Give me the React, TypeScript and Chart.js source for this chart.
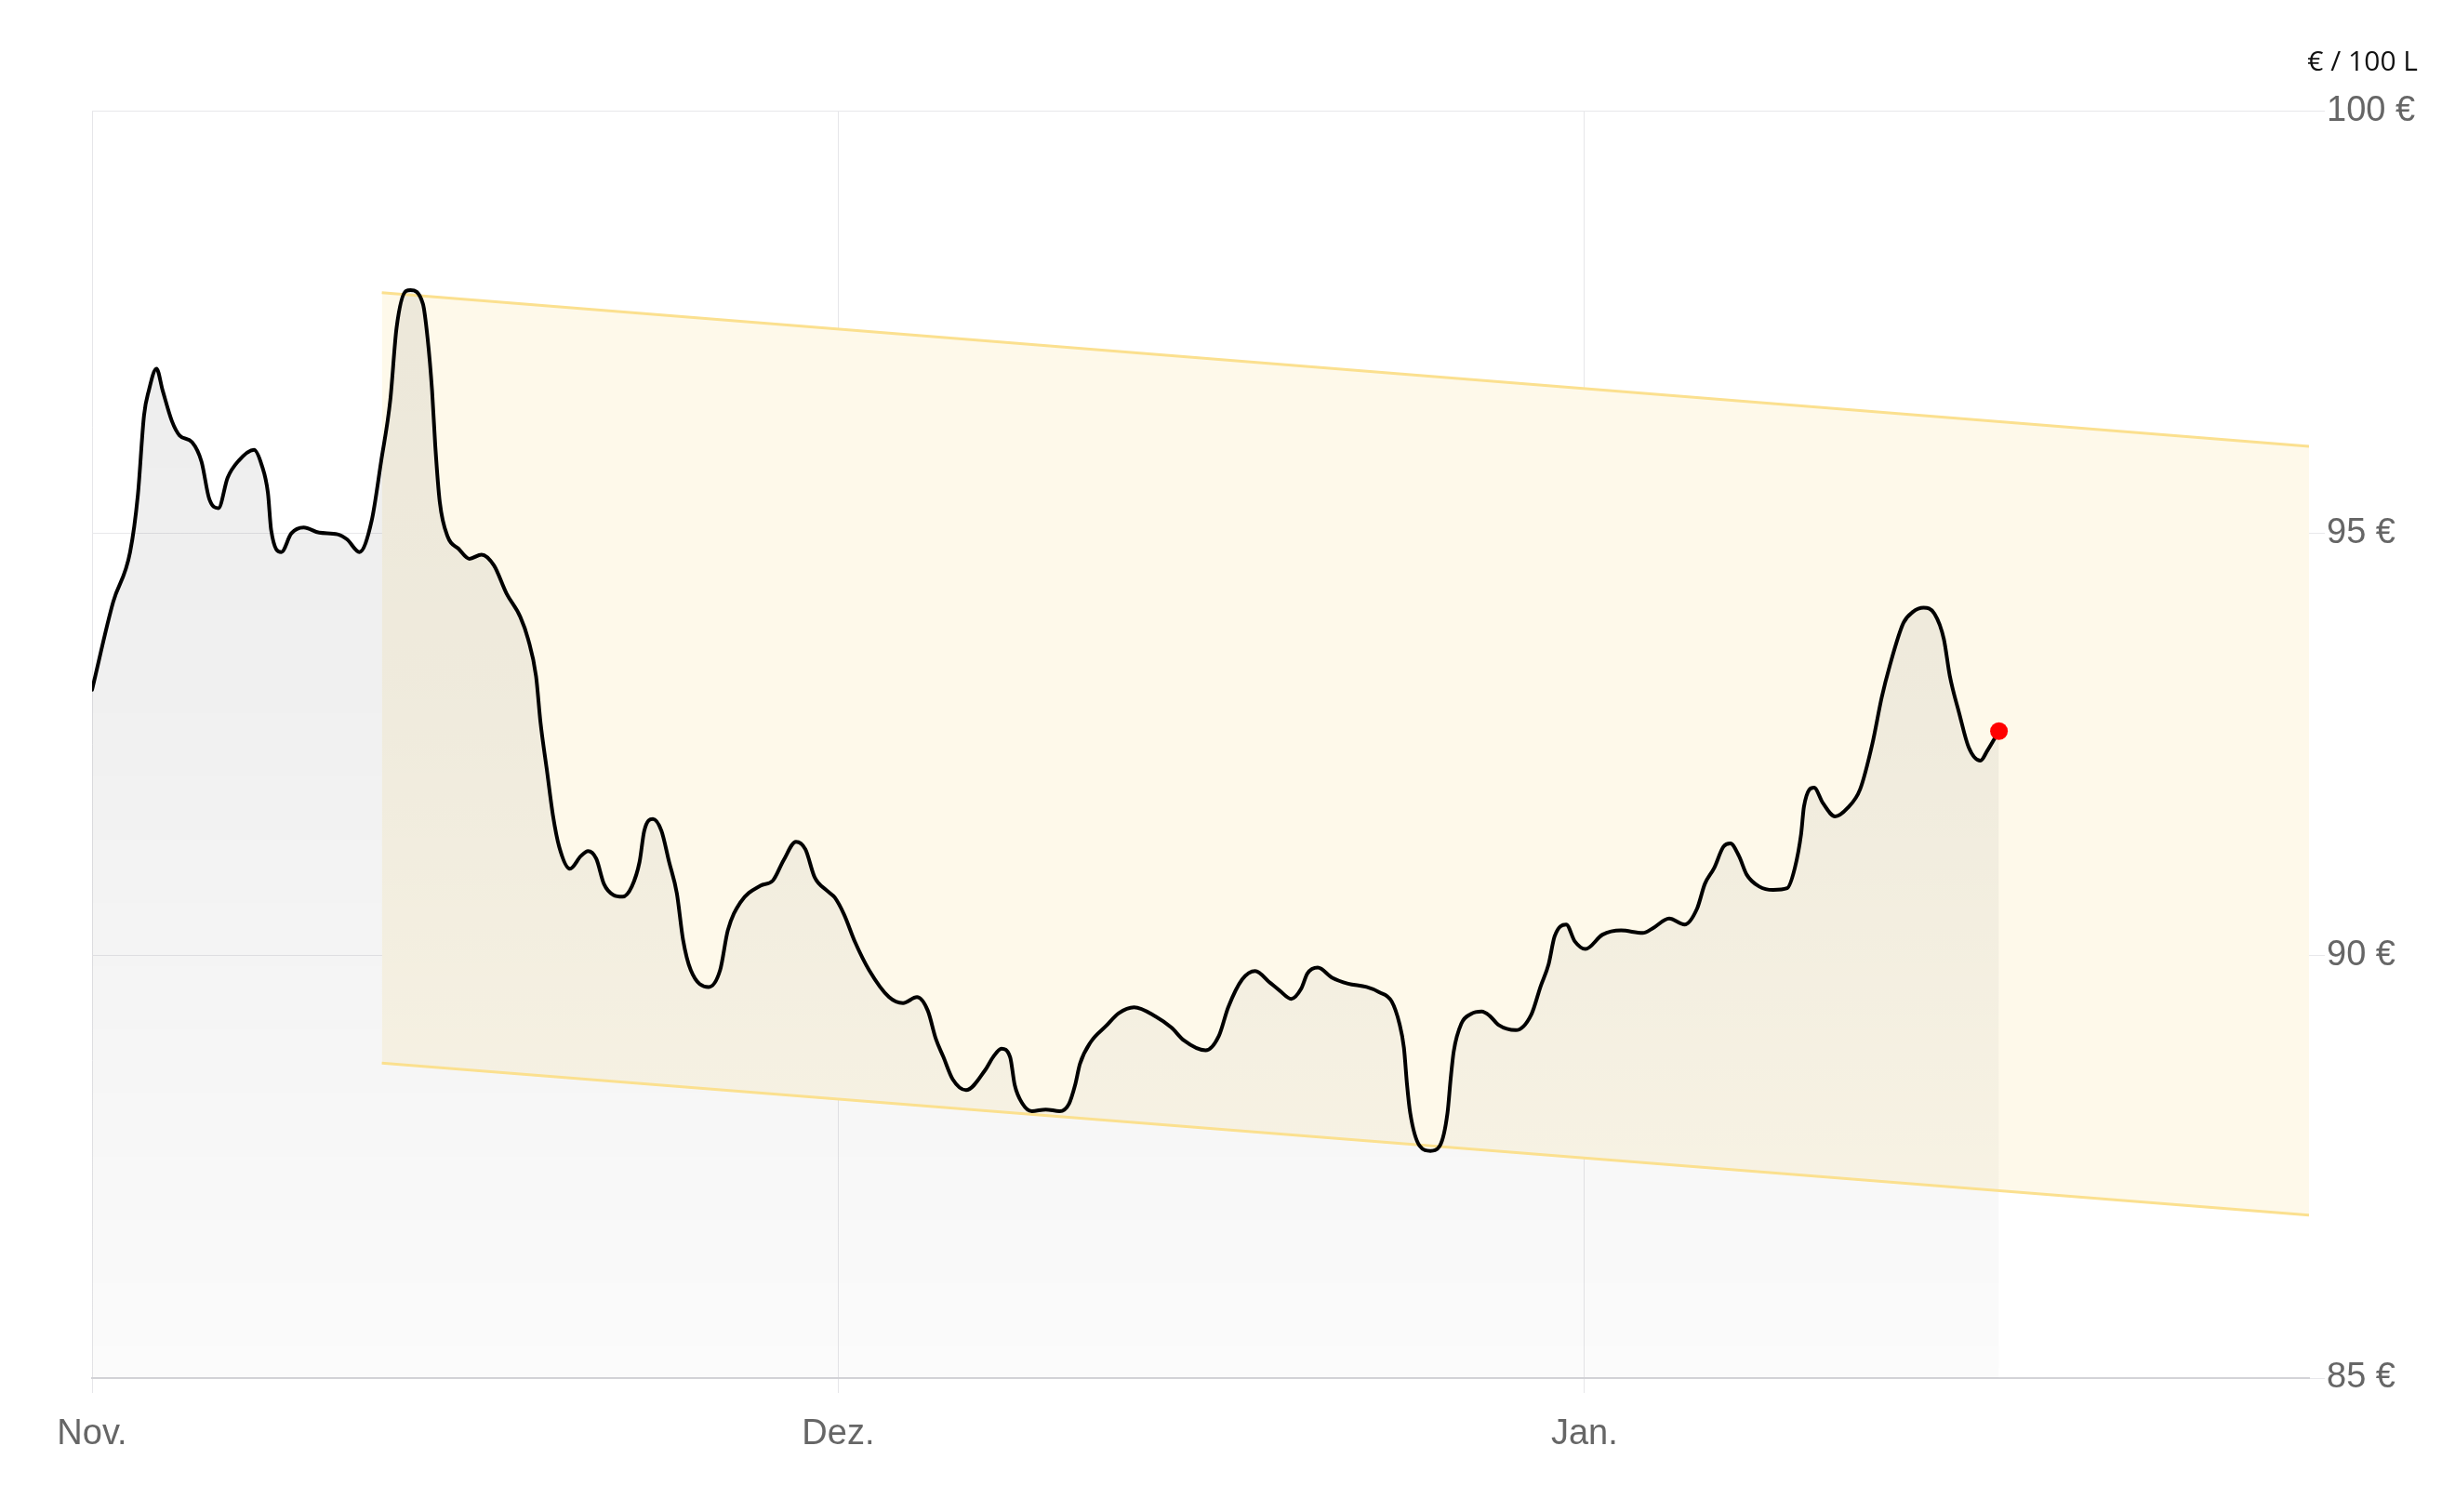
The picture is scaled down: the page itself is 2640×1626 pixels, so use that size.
import React, { useEffect, useRef } from "react";
import { Chart, registerables } from "chart.js";

Chart.register(...registerables);

// ---- data ----
const monthLabels = ["Nov.", "Dez.", "Jan."];
const monthLengths = [30, 31, 31];
const axisEndDay = 91.1; // days since 1 Nov at right edge of plot
const yTickValues = [85, 90, 95, 100];
const unitLabel = "€ / 100 L";

// days since 1 Nov (fractional) and price in € / 100 L
const priceDays = [
  0.0, 0.85, 1.53, 1.84, 2.09, 2.28, 2.59, 2.84, 3.21, 3.52, 4.02, 4.4, 4.71, 5.08, 5.45, 5.89,
  6.51, 6.82, 7.07, 7.2, 7.61, 8.01, 8.51, 9.13, 9.87, 10.25, 10.75, 11.24, 11.62, 11.99, 12.24,
  12.62, 12.8, 13.3, 13.49, 13.67, 13.8, 13.98, 14.3, 14.73, 15.17, 15.66, 16.16, 16.66, 17.22,
  17.53, 17.85, 18.03, 18.28, 18.53, 18.78, 19.21, 19.65, 19.94, 20.27, 20.58, 20.96, 21.33,
  21.7, 22.01, 22.2, 22.55, 22.89, 23.2, 23.51, 23.76, 24.07, 24.79, 25.25, 25.56, 26.06, 26.87,
  27.37, 27.8, 28.3, 28.68, 29.05, 29.55, 29.86, 30.24, 30.7, 31.28, 32.11, 32.69, 33.27, 33.72,
  34.05, 34.37, 34.75, 35.31, 36.11, 36.43, 36.78, 37.14, 37.33, 37.65, 38.04, 38.62, 39.2,
  39.59, 39.84, 40.04, 40.49, 41.13, 41.65, 42.29, 43.19, 43.84, 44.35, 45.26, 45.81, 46.2,
  46.78, 47.32, 47.94, 48.33, 48.82, 49.23, 49.49, 49.92, 50.52, 51.18, 51.95, 52.47, 52.99,
  53.31, 53.5, 53.63, 53.76, 54.15, 54.6, 54.99, 55.31, 55.44, 55.57, 55.89, 56.28, 56.73,
  57.06, 57.44, 58.15, 58.8, 59.18, 59.51, 59.76, 60.24, 60.6, 61.04, 61.75, 62.52, 63.42,
  63.81, 64.52, 65.16, 65.68, 66.0, 66.39, 66.77, 67.06, 67.42, 67.74, 68.26, 68.84, 69.42,
  69.74, 70.0, 70.12, 70.54, 70.9, 71.41, 71.93, 72.45, 72.96, 73.35, 73.67, 74.25, 74.64,
  75.09, 75.54, 75.93, 76.18, 76.57, 76.96, 77.45, 77.74, 78.22,
];
const priceValues = [
  93.15, 94.19, 94.78, 95.45, 96.4, 96.69, 96.95, 96.69, 96.33, 96.16, 96.08, 95.85, 95.41, 95.3,
  95.66, 95.86, 95.99, 95.81, 95.48, 95.04, 94.78, 95.0, 95.07, 95.01, 94.99, 94.93, 94.78, 95.15,
  95.85, 96.58, 97.43, 97.87, 97.88, 97.72, 97.31, 96.69, 96.03, 95.37, 94.96, 94.82, 94.7,
  94.75, 94.62, 94.29, 94.01, 93.75, 93.31, 92.76, 92.21, 91.66, 91.29, 91.03, 91.18, 91.24,
  91.15, 90.85, 90.72, 90.7, 90.82, 91.11, 91.48, 91.62, 91.48, 91.11, 90.74, 90.19, 89.83,
  89.63, 89.83, 90.3, 90.63, 90.83, 90.89, 91.13, 91.35, 91.26, 90.93, 90.77, 90.69, 90.49,
  90.16, 89.83, 89.51, 89.44, 89.51, 89.35, 89.02, 88.8, 88.54, 88.41, 88.65, 88.8, 88.9, 88.8,
  88.47, 88.25, 88.16, 88.18, 88.16, 88.25, 88.47, 88.72, 88.98, 89.17, 89.32, 89.39, 89.28,
  89.15, 89.0, 88.88, 89.05, 89.39, 89.72, 89.82, 89.68, 89.59, 89.49, 89.61, 89.79, 89.86,
  89.74, 89.67, 89.63, 89.57, 89.46, 89.2, 88.91, 88.47, 88.14, 87.75, 87.69, 87.75, 88.14,
  88.54, 88.87, 89.2, 89.31, 89.34, 89.29, 89.18, 89.12, 89.31, 89.64, 89.9, 90.23, 90.37,
  90.17, 90.08, 90.25, 90.3, 90.27, 90.32, 90.44, 90.37, 90.56, 90.85, 91.04, 91.29, 91.33,
  91.18, 90.96, 90.82, 90.78, 90.8, 91.04, 91.44, 91.77, 91.99, 91.81, 91.65, 91.75, 91.97,
  92.51, 93.06, 93.42, 93.94, 94.07, 94.12, 94.05, 93.75, 93.31, 92.87, 92.47, 92.31, 92.43,
  92.66,
];

// trend channel (start / end)
const channelDays = [11.65, 91.1];
const channelUpper = [97.85, 96.03];
const channelLower = [88.73, 86.93];

// convert days since 1 Nov into month units (each month has equal width on the axis)
function dayToPos(day: number): number {
  let start = 0;
  for (let m = 0; m < monthLengths.length; m++) {
    const len = monthLengths[m];
    if (day < start + len || m === monthLengths.length - 1) return m + (day - start) / len;
    start += len;
  }
  return 0;
}

const FONT = '"Liberation Sans", Arial, sans-serif';

const unitLabelPlugin = {
  id: "unitLabel",
  afterDraw(chart: any) {
    const { ctx, chartArea } = chart;
    ctx.save();
    ctx.font = '30px "Open Sans", "Noto Sans", sans-serif';
    ctx.fillStyle = "#111111";
    ctx.textAlign = "right";
    ctx.textBaseline = "middle";
    ctx.fillText(unitLabel, chart.width - 40, chartArea.top - 52);
    ctx.restore();
  },
};

export default function App() {
  const canvasRef = useRef<HTMLCanvasElement | null>(null);

  useEffect(() => {
    const canvas = canvasRef.current;
    if (!canvas) return;

    const priceData = priceDays.map((d, i) => ({ x: dayToPos(d), y: priceValues[i] }));
    const upperData = channelDays.map((d, i) => ({ x: dayToPos(d), y: channelUpper[i] }));
    const lowerData = channelDays.map((d, i) => ({ x: dayToPos(d), y: channelLower[i] }));
    const lastIndex = priceData.length - 1;

    const greyFill = (context: any) => {
      const chart = context.chart;
      const area = chart.chartArea;
      if (!area) return "rgba(0,0,0,0.05)";
      const g = chart.ctx.createLinearGradient(0, area.top, 0, area.bottom);
      g.addColorStop(0, "rgba(0,0,0,0.075)");
      g.addColorStop(0.45, "rgba(0,0,0,0.06)");
      g.addColorStop(1, "rgba(0,0,0,0.015)");
      return g;
    };

    const chart = new Chart(canvas, {
      type: "line",
      data: {
        datasets: [
          {
            label: "Preis",
            data: priceData,
            borderColor: "#000000",
            borderWidth: 4,
            cubicInterpolationMode: "monotone",
            borderJoinStyle: "round",
            borderCapStyle: "round",
            fill: "start",
            backgroundColor: greyFill,
            pointRadius: (ctx: any) => (ctx.dataIndex === lastIndex ? 9.5 : 0),
            pointBackgroundColor: "#ff0000",
            pointBorderColor: "#ff0000",
            pointBorderWidth: 0,
          },
          {
            label: "Oben",
            data: upperData,
            borderColor: "#fbe08f",
            borderWidth: 3,
            fill: "+1",
            backgroundColor: "#fef9ea",
            pointRadius: 0,
            tension: 0,
          },
          {
            label: "Unten",
            data: lowerData,
            borderColor: "#fbe08f",
            borderWidth: 3,
            fill: false,
            pointRadius: 0,
            tension: 0,
          },
        ],
      } as any,
      options: {
        animation: false,
        responsive: true,
        maintainAspectRatio: false,
        events: [],
        layout: { padding: { left: 99, top: 119.5, right: 0, bottom: 0 } },
        plugins: {
          legend: { display: false },
          tooltip: { enabled: false },
          filler: { drawTime: "beforeDatasetsDraw" },
        } as any,
        scales: {
          x: {
            type: "linear",
            min: 0,
            max: dayToPos(axisEndDay),
            afterBuildTicks: (scale: any) => {
              scale.ticks = monthLabels.map((_, i) => ({ value: i }));
            },
            afterFit: (scale: any) => {
              scale.height = 144;
            },
            ticks: {
              callback: (value: any) => monthLabels[Math.round(Number(value))] ?? "",
              font: { family: FONT, size: 38 },
              color: "#666666",
              padding: 22,
              maxRotation: 0,
              autoSkip: false,
            },
            grid: { color: "#e6e6e9", lineWidth: 1, tickLength: 16 },
            border: { display: true, color: "#d3d3d7", width: 2 },
          },
          y: {
            position: "right",
            min: 85,
            max: 100,
            afterBuildTicks: (scale: any) => {
              scale.ticks = yTickValues.map((v) => ({ value: v }));
            },
            afterFit: (scale: any) => {
              scale.width = 157;
            },
            ticks: {
              callback: (value: any) => `${value} €`,
              font: { family: FONT, size: 38 },
              color: "#666666",
              padding: 2,
            },
            grid: { color: "#e8e8eb", lineWidth: 1, tickLength: 17 },
            border: { display: false },
          },
        },
      } as any,
      plugins: [unitLabelPlugin],
    });

    return () => {
      chart.destroy();
    };
  }, []);

  return (
    <div
      style={{
        position: "fixed",
        left: 0,
        top: 0,
        width: "2640px",
        height: "1626px",
        background: "#ffffff",
      }}
    >
      <canvas ref={canvasRef} />
    </div>
  );
}
